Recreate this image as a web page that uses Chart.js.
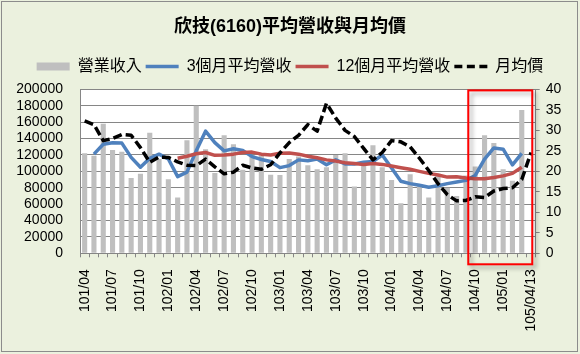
<!DOCTYPE html>
<html>
<head>
<meta charset="utf-8">
<script src="https://cdn.jsdelivr.net/npm/chart.js@4.4.1/dist/chart.umd.min.js"></script>
<style>
  html, body { margin: 0; padding: 0; background: #EBF1DE; }
  canvas { display: block; }
</style>
</head>
<body>
<canvas id="revenueChart" width="580" height="354"></canvas>
<script>
// 欣技(6160) monthly revenue, moving averages and monthly average price
const months = [
  '101/04', '101/05', '101/06', '101/07', '101/08', '101/09', '101/10', '101/11', '101/12',
  '102/01', '102/02', '102/03', '102/04', '102/05', '102/06', '102/07', '102/08', '102/09', '102/10', '102/11', '102/12',
  '103/01', '103/02', '103/03', '103/04', '103/05', '103/06', '103/07', '103/08', '103/09', '103/10', '103/11', '103/12',
  '104/01', '104/02', '104/03', '104/04', '104/05', '104/06', '104/07', '104/08', '104/09', '104/10', '104/11', '104/12',
  '105/01', '105/02', '105/03', '105/04/13'
];

const revenue = [
  122000, 119000, 158000, 126000, 124000, 92000, 97000, 147000, 115000, 90500,
  68000, 138000, 180000, 127000, 98000, 144000, 133000, 102000, 120000, 122000,
  96000, 95500, 115000, 118000, 107500, 102500, 105000, 120000, 122000, 81500,
  106500, 132000, 105000, 89500, 61000, 96500, 84500, 68000, 97000, 80000,
  70000, 95000, 106000, 144000, 134500, 102500, 88500, 175000, null
];

const avg3 = [
  null, 121000, 133000, 135000, 134500, 117000, 105000, 116000, 121000, 115000,
  93500, 99000, 125000, 149000, 135000, 125000, 127500, 125500, 118000, 114500,
  112000, 104500, 107000, 114000, 113000, 115000, 108000, 114000, 109000, 109000,
  111000, 112000, 120000, 104000, 88000, 85000, 83000, 80500, 82500, 85000,
  87000, 89000, 95000, 115000, 128500, 127000, 108000, 122000, null
];

const avg12 = [
  null, null, null, null, null, null, null, null, null, null,
  116000, 118500, 121500, 123000, 119500, 120000, 121000, 123000, 123500, 121000,
  120000, 122000, 122500, 121000, 118500, 116500, 114000, 112500, 110500, 109500,
  108500, 109500, 108500, 106500, 104500, 102500, 100000, 97500, 95500, 93000,
  93500, 92000, 91000, 91000, 92500, 94500, 97500, 105000, null
];

const price = [
  32.3, 31.4, 27.5, 28, 29, 28.8, 25.8, 22.2, 23.5, 23.4,
  22.3, 21.5, 21.4, 23, 21.1, 19.4, 19.8, 21.5, 20.8, 20.5,
  21.6, 24.5, 27, 28.8, 31.4, 29.8, 36.6, 33, 30, 28.5,
  25.6, 22.8, 24.6, 27.5, 27.2, 26, 23.2, 20.2, 17, 14.3,
  12.8, 12.9, 13.8, 13.6, 15.2, 15.8, 16, 18, 24.6
];

// highlighted range (category index units)
const boxFrom = 41.25;
const boxTo = 48.13;

const FONT = "'Liberation Sans', 'Noto Sans CJK TC', sans-serif";
const GRID = '#868686';

Chart.defaults.font.family = FONT;
Chart.defaults.color = '#000';

// background, plot area, outer frame and the red highlight box
const framePlugin = {
  id: 'frame',
  afterInit(chart) {
    // extra space between the legend and the plot
    const legend = chart.legend;
    if (legend) {
      const baseFit = legend.fit;
      legend.fit = function () {
        baseFit.call(this);
        this.height += 4.8;
      };
    }
  },
  beforeDraw(chart) {
    const { ctx, chartArea: a } = chart;
    ctx.save();
    ctx.fillStyle = '#EBF1DE';
    ctx.fillRect(0, 0, chart.width, chart.height);
    ctx.strokeStyle = '#8C8C8C';
    ctx.lineWidth = 1;
    ctx.strokeRect(1.5, 1.5, chart.width - 4, chart.height - 4);
    ctx.fillStyle = '#FFFFFF';
    ctx.fillRect(a.left, a.top, a.width, a.height);
    ctx.restore();
  },
  afterDraw(chart) {
    const { ctx } = chart;
    const x = chart.scales.x;
    const y = chart.scales.y;
    const step = x.getPixelForValue(1) - x.getPixelForValue(0);
    const left = x.getPixelForValue(0) + boxFrom * step;
    const right = x.getPixelForValue(0) + boxTo * step;
    const top = y.getPixelForValue(200000) + 1;
    const bottom = y.getPixelForValue(0) + 11;
    ctx.save();
    ctx.shadowColor = 'rgba(0, 0, 0, 0.35)';
    ctx.shadowBlur = 4;
    ctx.shadowOffsetX = 3;
    ctx.shadowOffsetY = 3;
    ctx.strokeStyle = '#FF0000';
    ctx.lineWidth = 2;
    ctx.strokeRect(left, top, right - left, bottom - top);
    ctx.restore();
  }
};

const ctx = document.getElementById('revenueChart');
new Chart(ctx, {
  data: {
    labels: months,
    datasets: [{
      type: 'bar',
      label: '營業收入',
      data: revenue,
      yAxisID: 'y',
      backgroundColor: '#BFBFBF',
      barPercentage: 0.55,
      categoryPercentage: 1,
      pointStyle: 'rect',
      order: 4
    }, {
      type: 'line',
      label: '3個月平均營收',
      data: avg3,
      yAxisID: 'y',
      borderColor: '#4F81BD',
      backgroundColor: '#4F81BD',
      borderWidth: 3.5,
      borderJoinStyle: 'round',
      pointRadius: 0,
      pointStyle: 'line',
      tension: 0,
      order: 3
    }, {
      type: 'line',
      label: '12個月平均營收',
      data: avg12,
      yAxisID: 'y',
      borderColor: '#C0504D',
      backgroundColor: '#C0504D',
      borderWidth: 3.5,
      borderJoinStyle: 'round',
      pointRadius: 0,
      pointStyle: 'line',
      tension: 0,
      order: 2
    }, {
      type: 'line',
      label: '月均價',
      data: price,
      yAxisID: 'y1',
      borderColor: '#000000',
      backgroundColor: '#000000',
      borderWidth: 3.5,
      borderDash: [9, 4],
      borderJoinStyle: 'round',
      pointRadius: 0,
      pointStyle: 'line',
      tension: 0,
      order: 1
    }]
  },
  options: {
    responsive: false,
    animation: false,
    devicePixelRatio: 1,
    layout: { padding: 0 },
    plugins: {
      title: {
        display: true,
        text: '欣技(6160)平均營收與月均價',
        color: '#000',
        font: { size: 18, weight: 'bold' },
        padding: { top: 16, bottom: 17 }
      },
      legend: {
        position: 'top',
        labels: {
          usePointStyle: true,
          pointStyleWidth: 33,
          boxHeight: 8,
          padding: 4,
          color: '#000',
          font: { size: 16 },
          sort: (a, b) => a.datasetIndex - b.datasetIndex,
          generateLabels(chart) {
            const items = Chart.defaults.plugins.legend.labels.generateLabels(chart);
            items.forEach(item => {
              const ds = chart.data.datasets[item.datasetIndex];
              if (ds.type === 'line') {
                item.lineWidth = ds.borderWidth;
                item.lineDash = ds.borderDash || [];
                if (ds.borderDash) item.lineDash = [8, 4.5];
              }
            });
            return items;
          }
        }
      },
      tooltip: { enabled: false }
    },
    scales: {
      x: {
        offset: true,
        grid: { offset: true, drawOnChartArea: false, drawTicks: true, tickLength: 4, color: GRID },
        border: { color: GRID },
        ticks: {
          autoSkip: false,
          minRotation: 90,
          maxRotation: 90,
          padding: 12,
          font: { size: 14 },
          callback: function (value, index) {
            return index % 3 === 0 ? months[index] : '';
          }
        },
        afterFit: function (scale) { scale.height = 100.7; }
      },
      y: {
        position: 'left',
        min: 0,
        max: 200000,
        ticks: { stepSize: 20000, autoSkip: false, padding: 17, font: { size: 14 }, callback: v => v },
        grid: { color: GRID, drawTicks: false },
        border: { color: GRID },
        afterFit: function (scale) { scale.width = 80; }
      },
      y1: {
        position: 'right',
        min: 0,
        max: 40,
        ticks: { stepSize: 5, autoSkip: false, padding: 6, font: { size: 14 } },
        grid: { drawOnChartArea: false, color: GRID, tickLength: 4 },
        border: { color: GRID },
        afterFit: function (scale) { scale.width = 44.3; }
      }
    }
  },
  plugins: [framePlugin]
});
</script>
</body>
</html>
